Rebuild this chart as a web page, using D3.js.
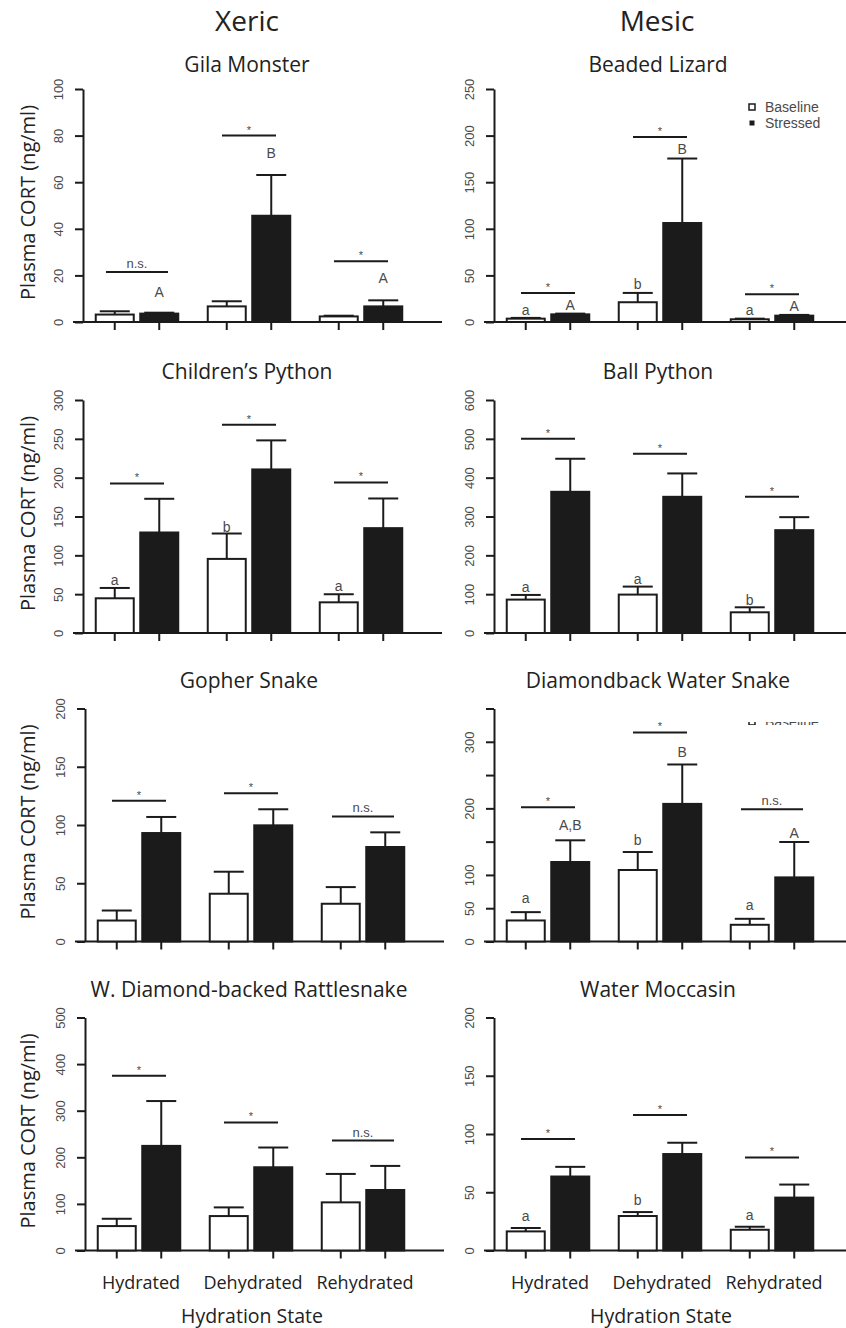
<!DOCTYPE html>
<html>
<head>
<meta charset="utf-8">
<script src="https://cdn.jsdelivr.net/npm/d3@7"></script>
<style>
  body { margin: 0; background: #fff; }
  svg { display: block; }
</style>
</head>
<body>
<svg id="chart" width="846" height="1328"></svg>
<script>
// ---- data ----
const groups = ['Hydrated', 'Dehydrated', 'Rehydrated']
const series = ['Baseline', 'Stressed']
const habitats = ['Xeric', 'Mesic']
const species = ['Gila Monster', 'Beaded Lizard', 'Children\u2019s Python', 'Ball Python',
  'Gopher Snake', 'Diamondback Water Snake', 'W. Diamond-backed Rattlesnake', 'Water Moccasin']
const yMax = [100, 250, 300, 600, 200, 350, 500, 200]
const yStep = [20, 50, 50, 100, 50, 50, 100, 50]
// Diamondback panel only labels some of its ticks
const yHidden = [[], [], [], [], [], [150, 250, 350], [], []]

const baselineMean = [
  [3.2, 6.7, 2.4], [3.6, 21.2, 2.9], [44.7, 95.4, 39.5], [86, 98.9, 53.3],
  [18, 41, 32.4], [31.6, 107.4, 25.1], [52.4, 73.9, 103.3], [16.4, 29.6, 17.8]]
const baselineSE = [
  [1.4, 2.2, 0.3], [0.8, 10, 0.7], [13.3, 32.7, 10.4], [12, 20.6, 12.9],
  [8.6, 18.9, 14.3], [12.5, 27, 9], [15.7, 18.6, 61], [2.9, 3.4, 2.6]]
const stressedMean = [
  [3.6, 45.6, 6.7], [8.2, 106.2, 6.8], [129.4, 210.6, 135], [363.6, 350.7, 264.8],
  [93.1, 99.7, 81.1], [119.4, 206.7, 96.3], [224.5, 178.6, 129.8], [63.5, 82.8, 45.4]]
const stressedSE = [
  [0.4, 17.5, 2.6], [0.8, 69.2, 0.8], [43.4, 37.4, 38.2], [85.1, 60.2, 33.5],
  [13.8, 13.8, 12.6], [32.6, 59.2, 53.2], [96.2, 42.4, 51.7], [8.3, 9.7, 11.2]]

// significance bar between baseline and stressed in each group
const sigText = [
  ['n.s.', '*', '*'], ['*', '*', '*'], ['*', '*', '*'], ['*', '*', '*'],
  ['*', '*', 'n.s.'], ['*', '*', 'n.s.'], ['*', '*', 'n.s.'], ['*', '*', '*']]
const sigLevel = [
  [21.5, 80, 26.1], [31.2, 198.4, 29.8], [192.5, 268.2, 193.8], [500.3, 461.6, 350.7],
  [120.9, 127.2, 107.4], [201.7, 314, 198.7], [375.2, 274.7, 236], [95.7, 116.4, 79.9]]

// post-hoc letters (null = none)
const baselineLetters = [null, ['a', 'b', 'a'], ['a', 'b', 'a'], ['a', 'a', 'b'],
  null, ['a', 'b', 'a'], null, ['a', 'b', 'a']]
const baselineLetterLevel = [null, [13.3, 40.5, 13.3], [68.8, 136.7, 60.2], [118.6, 140, 84.2],
  null, [65.2, 152.5, 54.7], null, [29.6, 43.1, 30.5]]
const stressedLetters = [['A', 'B', 'A'], ['A', 'B', 'A'], null, null,
  null, ['A,B', 'B', 'A'], null, null]
const stressedLetterLevel = [[12.9, 72.7, 18.9], [17.9, 185.4, 16.9], null, null,
  null, [174.6, 284, 162.5], null, null]

// ---- layout ----
const svg = d3.select('#chart')
const rowTop = [89, 400, 708.5, 1017.5]
const plotH = 233
const axisLeftX = [83, 83, 85, 85]
const axisRightX = 494
const ink = '#1b1b1b'
const grey = '#4a4a4a'
const sansSerif = 'Liberation Sans, Arial, sans-serif'
const titleFont = 'Open Sans, Noto Sans, sans-serif'

// column headers
habitats.forEach((h, i) => {
  svg.append('text')
    .attr('x', i === 0 ? 247 : 657)
    .attr('y', 31)
    .attr('text-anchor', 'middle')
    .style('font-family', titleFont)
    .style('font-size', '28px')
    .style('fill', '#222')
    .text(h)
})

species.forEach((name, p) => {
  const row = Math.floor(p / 2)
  const col = p % 2
  const ax = col === 0 ? axisLeftX[row] : axisRightX
  const top = rowTop[row]
  const bottom = top + plotH

  const y = d3.scaleLinear().domain([0, yMax[p]]).range([bottom, top])
  const x0 = d3.scaleBand().domain(groups).range([ax - 2, ax + 334]).padding(0)
  const x1 = d3.scaleBand().domain(series).range([13.75, 98.25]).paddingInner(0.101).paddingOuter(0)
  const bw = x1.bandwidth()
  const cx = (g, s) => x0(g) + x1(s) + bw / 2

  const panel = svg.append('g')

  // title
  panel.append('text')
    .attr('x', ax + 164)
    .attr('y', top - (row === 0 ? 17 : 21))
    .attr('text-anchor', 'middle')
    .style('font-family', titleFont)
    .style('font-size', '21px')
    .style('fill', '#222')
    .text(name)

  // y axis
  const ticks = d3.range(0, yMax[p] + 0.001, yStep[p])
  const yAxis = d3.axisLeft(y)
    .tickValues(ticks)
    .tickSize(8)
    .tickSizeOuter(0)
    .tickFormat(d => yHidden[p].includes(d) ? '' : d)

  const gy = panel.append('g')
    .attr('transform', `translate(${ax},0)`)
    .call(yAxis)
  gy.select('.domain').style('stroke', ink).style('stroke-width', 2)
  gy.selectAll('.tick line').style('stroke', ink).style('stroke-width', 2)
  // R style: labels run parallel to the axis
  gy.selectAll('.tick text')
    .attr('x', null)
    .attr('dy', null)
    .attr('transform', 'translate(-20,0) rotate(-90)')
    .attr('text-anchor', 'middle')
    .style('font-family', sansSerif)
    .style('font-size', '13px')
    .style('fill', grey)

  // y axis title (left column only)
  if (col === 0) {
    panel.append('text')
      .attr('transform', `translate(35,${(top + bottom) / 2 - 3}) rotate(-90)`)
      .attr('text-anchor', 'middle')
      .style('font-family', titleFont)
      .style('font-size', '20px')
      .style('fill', '#222')
      .text('Plasma CORT (ng/ml)')
  }

  // x axis line and ticks
  panel.append('line')
    .attr('x1', x0.range()[0] - 8)
    .attr('x2', x0.range()[1] + 25)
    .attr('y1', bottom)
    .attr('y2', bottom)
    .style('stroke', ink)
    .style('stroke-width', 2)

  const cells = []
  groups.forEach((g, i) => {
    series.forEach((s, j) => {
      cells.push({
        g, s, i,
        mean: j === 0 ? baselineMean[p][i] : stressedMean[p][i],
        se: j === 0 ? baselineSE[p][i] : stressedSE[p][i],
        letter: j === 0
          ? (baselineLetters[p] ? baselineLetters[p][i] : null)
          : (stressedLetters[p] ? stressedLetters[p][i] : null),
        letterLevel: j === 0
          ? (baselineLetterLevel[p] ? baselineLetterLevel[p][i] : null)
          : (stressedLetterLevel[p] ? stressedLetterLevel[p][i] : null)
      })
    })
  })

  panel.selectAll('.xtick')
    .data(cells)
    .join('line')
    .attr('class', 'xtick')
    .attr('x1', d => cx(d.g, d.s))
    .attr('x2', d => cx(d.g, d.s))
    .attr('y1', bottom)
    .attr('y2', bottom + 8)
    .style('stroke', ink)
    .style('stroke-width', 2)

  // error bars (upper only)
  panel.selectAll('.err')
    .data(cells)
    .join('line')
    .attr('class', 'err')
    .attr('x1', d => cx(d.g, d.s))
    .attr('x2', d => cx(d.g, d.s))
    .attr('y1', d => y(d.mean))
    .attr('y2', d => y(d.mean + d.se))
    .style('stroke', ink)
    .style('stroke-width', 2)

  panel.selectAll('.cap')
    .data(cells)
    .join('line')
    .attr('class', 'cap')
    .attr('x1', d => cx(d.g, d.s) - 15)
    .attr('x2', d => cx(d.g, d.s) + 15)
    .attr('y1', d => y(d.mean + d.se))
    .attr('y2', d => y(d.mean + d.se))
    .style('stroke', ink)
    .style('stroke-width', 2)

  // bars
  panel.selectAll('.bar')
    .data(cells)
    .join('rect')
    .attr('class', 'bar')
    .attr('x', d => x0(d.g) + x1(d.s) + 1)
    .attr('width', bw - 2)
    .attr('y', d => y(d.mean))
    .attr('height', d => y(0) - y(d.mean))
    .style('fill', d => d.s === 'Baseline' ? '#fff' : ink)
    .style('stroke', ink)
    .style('stroke-width', 2)

  // letters
  panel.selectAll('.letter')
    .data(cells.filter(d => d.letter))
    .join('text')
    .attr('class', 'letter')
    .attr('x', d => cx(d.g, d.s))
    .attr('y', d => y(d.letterLevel) + 5)
    .attr('text-anchor', 'middle')
    .style('font-family', sansSerif)
    .style('font-size', '14px')
    .style('fill', grey)
    .text(d => d.letter)

  // significance bars
  const sig = groups.map((g, i) => ({ g, text: sigText[p][i], level: sigLevel[p][i] }))
  panel.selectAll('.sig')
    .data(sig)
    .join('line')
    .attr('class', 'sig')
    .attr('x1', d => x0(d.g) + x0.bandwidth() / 2 - (d.text === 'n.s.' ? 31 : 27))
    .attr('x2', d => x0(d.g) + x0.bandwidth() / 2 + (d.text === 'n.s.' ? 31 : 27))
    .attr('y1', d => y(d.level))
    .attr('y2', d => y(d.level))
    .style('stroke', ink)
    .style('stroke-width', 2)

  panel.selectAll('.sigtext')
    .data(sig)
    .join('text')
    .attr('class', 'sigtext')
    .attr('x', d => x0(d.g) + x0.bandwidth() / 2)
    .attr('y', d => y(d.level) - (d.text === '*' ? 2 : 4))
    .attr('text-anchor', 'middle')
    .style('font-family', sansSerif)
    .style('font-size', d => d.text === '*' ? '11px' : '13px')
    .style('fill', grey)
    .text(d => d.text)

  // x category labels + axis title on bottom row
  if (row === 3) {
    panel.selectAll('.xlab')
      .data(groups)
      .join('text')
      .attr('class', 'xlab')
      .attr('x', d => x0(d) + x0.bandwidth() / 2 + 2)
      .attr('y', bottom + 38)
      .attr('text-anchor', 'middle')
      .style('font-family', titleFont)
      .style('font-size', '18px')
      .style('fill', '#222')
      .text(d => d)

    panel.append('text')
      .attr('x', ax + 167)
      .attr('y', bottom + 72)
      .attr('text-anchor', 'middle')
      .style('font-family', titleFont)
      .style('font-size', '19.5px')
      .style('fill', '#222')
      .text('Hydration State')
  }
})

// legend (Beaded Lizard panel)
const legend = svg.append('g').attr('transform', 'translate(752,107)')
series.forEach((s, i) => {
  const item = legend.append('g').attr('transform', `translate(0,${i * 16})`)
  if (s === 'Baseline') {
    item.append('rect').attr('x', -3).attr('y', -3).attr('width', 6).attr('height', 6)
      .style('fill', '#fff').style('stroke', ink).style('stroke-width', 1.5)
  } else {
    item.append('rect').attr('x', -2.5).attr('y', -2.5).attr('width', 5).attr('height', 5)
      .style('fill', ink)
  }
  item.append('text')
    .attr('x', 13)
    .attr('y', 5)
    .style('font-family', sansSerif)
    .style('font-size', '14px')
    .style('fill', grey)
    .text(s)
})

// clipped legend remnant in Diamondback Water Snake panel
svg.append('clipPath').attr('id', 'remnant')
  .append('rect').attr('x', 740).attr('y', 722).attr('width', 90).attr('height', 3)
const remnant = svg.append('g').attr('clip-path', 'url(#remnant)')
remnant.append('rect').attr('x', 749).attr('y', 719).attr('width', 6).attr('height', 6)
  .style('fill', '#fff').style('stroke', ink).style('stroke-width', 1.5)
remnant.append('text')
  .attr('x', 765).attr('y', 727)
  .style('font-family', sansSerif).style('font-size', '14px').style('fill', grey)
  .text(series[0])
</script>
</body>
</html>
